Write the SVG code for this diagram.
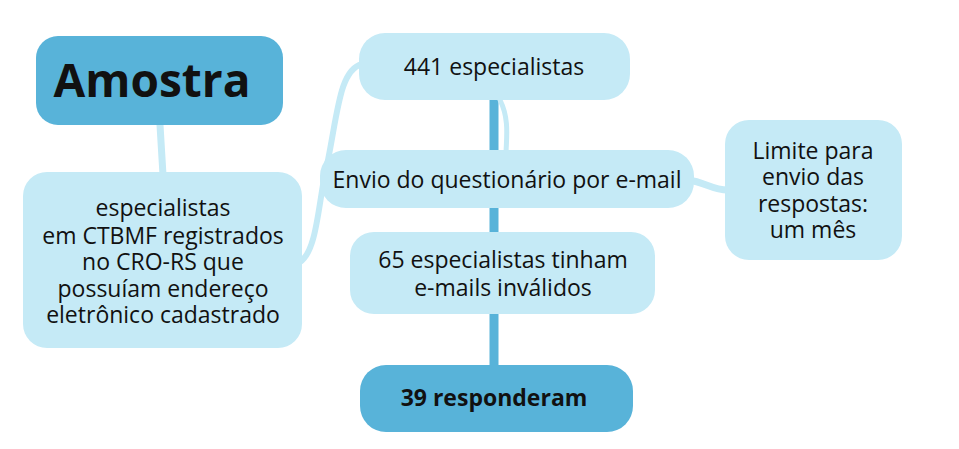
<svg xmlns="http://www.w3.org/2000/svg" width="959" height="449" viewBox="0 0 959 449">
<style>
.dark{fill:#58b3d9}
.light{fill:#c5eaf6}
.t{font-family:"Open Sans","Noto Sans",sans-serif;font-size:23px;fill:#111;text-anchor:middle}
.b{font-weight:bold}
.cl{fill:none;stroke:#c5eaf6;stroke-linecap:round}
.cd{fill:none;stroke:#58b3d9}
</style>
<rect width="959" height="449" fill="#fff"/>
<g id="connectors">
<path class="cl" d="M160 125 L163 175" stroke-width="7"/>
<path class="cl" d="M300 262 C318 250 318 200 328 160 C338 110 340 70 362 64" stroke-width="6"/>
<path class="cd" d="M494 98 L494 365" stroke-width="9"/>
<path class="cl" d="M500 100 C510 120 506 140 506 155" stroke-width="5"/>
<path class="cl" d="M688 180 C705 182 712 190 728 190" stroke-width="7"/>
</g>
<g id="amostra">
<rect class="dark" x="36" y="36" width="247" height="89" rx="22"/>
<text class="t b" x="152" y="97" style="font-size:46px">Amostra</text>
</g>
<g id="especialistas">
<rect class="light" x="23" y="172" width="279" height="176" rx="24"/>
<text class="t" x="163"><tspan x="163" y="216">especialistas</tspan><tspan x="163" y="244">em CTBMF registrados</tspan><tspan x="163" y="270">no CRO-RS que</tspan><tspan x="163" y="297">possuíam endereço</tspan><tspan x="163" y="323">eletrônico cadastrado</tspan></text>
</g>
<g id="n441">
<rect class="light" x="359" y="33" width="271" height="67" rx="26"/>
<text class="t" x="494" y="75">441 especialistas</text>
</g>
<g id="envio">
<rect class="light" x="320" y="150" width="374" height="58" rx="26"/>
<text class="t" x="507" y="188">Envio do questionário por e-mail</text>
</g>
<g id="limite">
<rect class="light" x="725" y="120" width="177" height="140" rx="24"/>
<text class="t"><tspan x="813" y="159">Limite para</tspan><tspan x="813" y="185">envio das</tspan><tspan x="813" y="212">respostas:</tspan><tspan x="813" y="238">um mês</tspan></text>
</g>
<g id="n65">
<rect class="light" x="350" y="232" width="305" height="82" rx="24"/>
<text class="t"><tspan x="503" y="268">65 especialistas tinham</tspan><tspan x="503" y="296">e-mails inválidos</tspan></text>
</g>
<g id="n39">
<rect class="dark" x="360" y="365" width="273" height="67" rx="26"/>
<text class="t b" x="494" y="406">39 responderam</text>
</g>
</svg>
